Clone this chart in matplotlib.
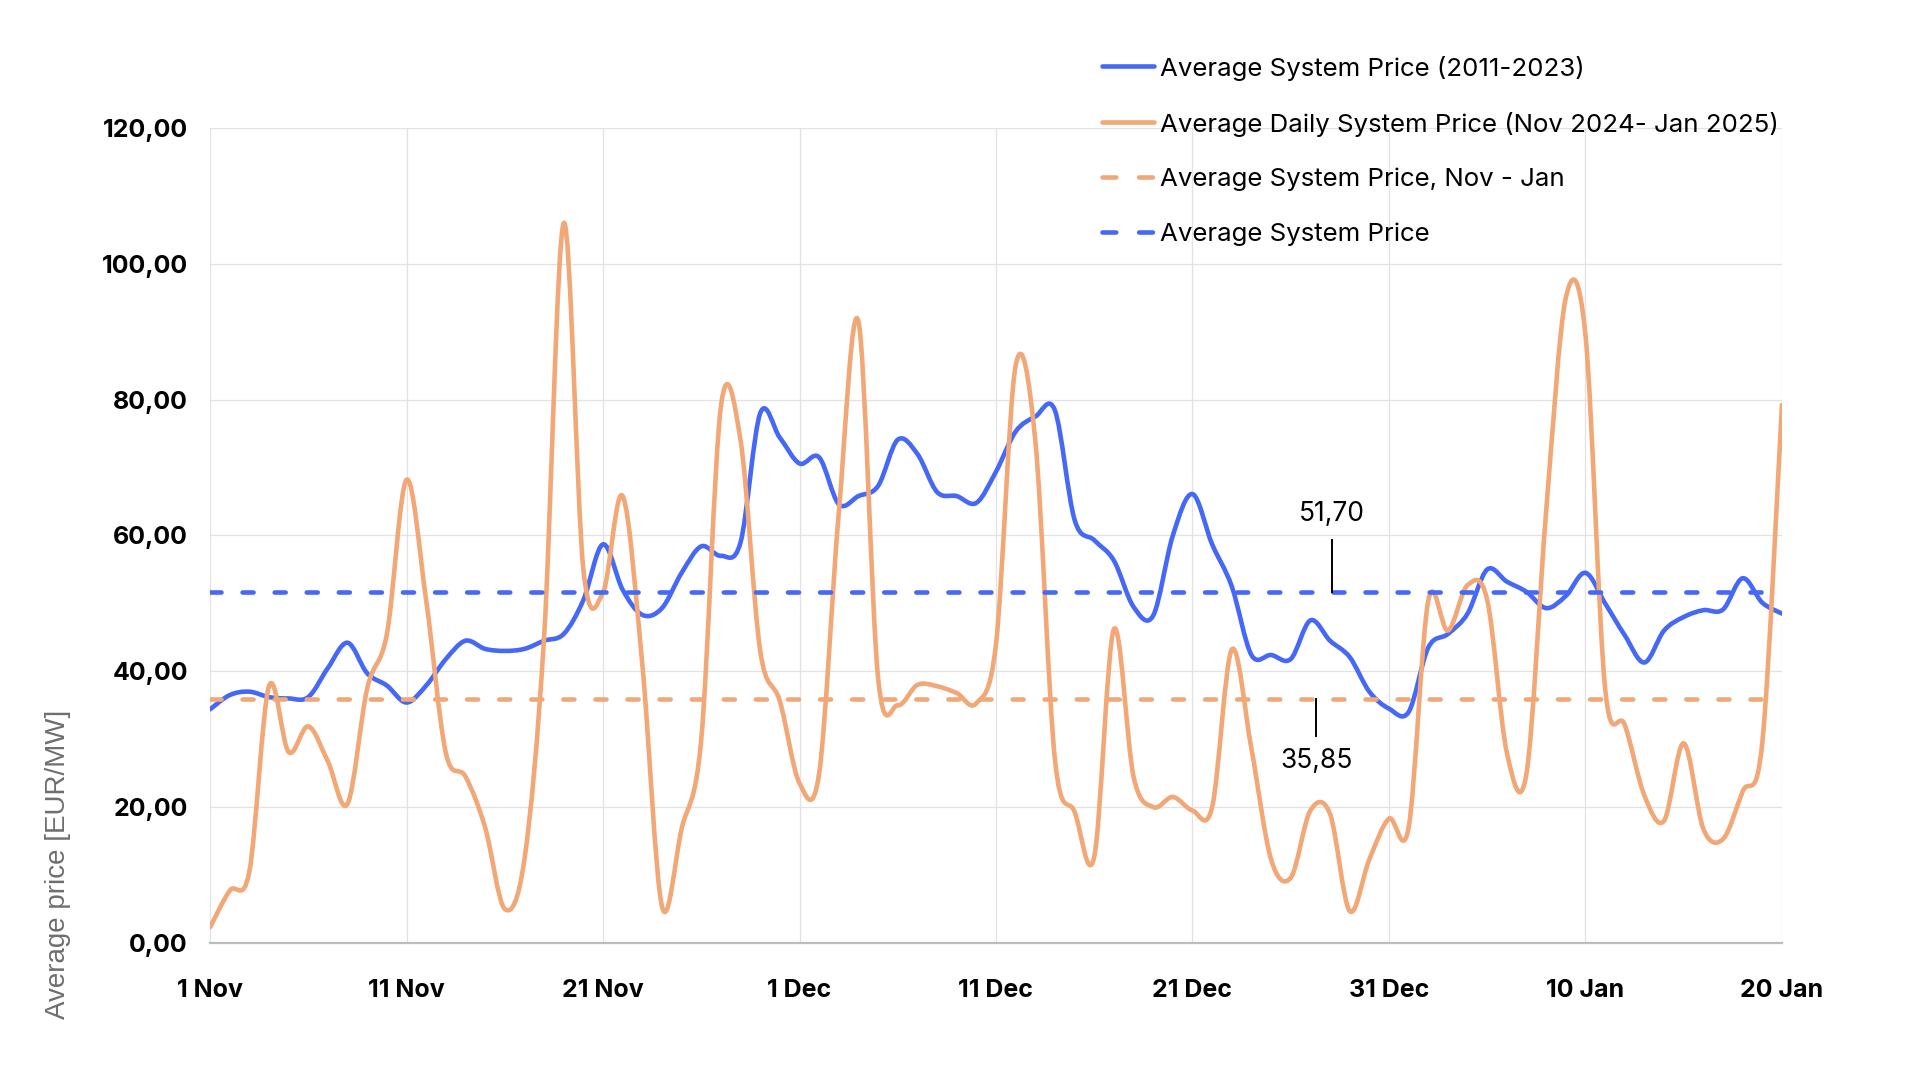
import matplotlib
matplotlib.use("Agg")
import matplotlib.pyplot as plt
from matplotlib.path import Path
from matplotlib.patches import PathPatch
from matplotlib.lines import Line2D
import numpy as np

# ---------------- data ----------------
days = list(range(81))  # 1 Nov 2024 .. 20 Jan 2025
avg_2011_2023 = [34.4, 36.5, 37.0, 36.2, 36.0, 36.2, 40.5, 44.2, 39.7, 37.9,
                 35.4, 37.9, 41.8, 44.5, 43.3, 43.0, 43.3, 44.5, 45.5, 50.5,
                 58.7, 52.0, 48.3, 49.3, 54.5, 58.4, 57.0, 59.0, 78.0, 74.4,
                 70.6, 71.5, 64.6, 65.8, 67.3, 74.1, 72.0, 66.4, 65.8, 64.8,
                 69.4, 75.3, 77.5, 78.4, 62.3, 59.3, 56.3, 49.5, 48.2, 60.0,
                 66.1, 58.7, 52.5, 42.4, 42.4, 41.8, 47.5, 44.5, 42.1, 37.0,
                 34.5, 34.0, 43.5, 45.5, 48.5, 55.0, 53.2, 51.7, 49.3, 51.1,
                 54.5, 50.0, 45.3, 41.3, 46.0, 48.0, 49.0, 49.1, 53.7, 50.1,
                 48.5]
daily_2024_25 = [2.3, 7.7, 10.5, 37.8, 28.1, 31.9, 26.7, 20.5, 37.5, 45.5,
                 68.2, 50.4, 28.0, 24.5, 17.0, 5.0, 12.3, 45.0, 106.0, 55.0,
                 51.6, 65.8, 41.0, 5.4, 16.8, 30.0, 79.0, 74.0, 43.0, 35.6,
                 23.5, 25.0, 63.4, 91.5, 39.0, 35.0, 38.0, 37.8, 36.8, 35.3,
                 44.0, 85.0, 74.0, 27.0, 19.3, 12.7, 46.2, 24.5, 20.0, 21.5,
                 19.5, 20.0, 43.2, 28.6, 12.3, 9.6, 19.5, 19.0, 4.7, 12.3,
                 18.3, 17.0, 50.4, 46.0, 52.7, 50.5, 28.0, 25.0, 63.6, 95.0,
                 89.5, 37.5, 32.1, 21.7, 18.0, 29.4, 16.8, 15.3, 22.3, 29.5,
                 79.2]
mean_nov_jan = 35.85
mean_system = 51.70

x_tick_pos = [0, 10, 20, 30, 40, 50, 60, 70, 80]
x_tick_labels = ['1 Nov', '11 Nov', '21 Nov', '1 Dec', '11 Dec', '21 Dec',
                 '31 Dec', '10 Jan', '20 Jan']
y_ticks = [0, 20, 40, 60, 80, 100, 120]
y_tick_labels = ['0,00', '20,00', '40,00', '60,00', '80,00', '100,00', '120,00']

legend_labels = ['Average System Price (2011-2023)',
                 'Average Daily System Price (Nov 2024- Jan 2025)',
                 'Average System Price, Nov - Jan',
                 'Average System Price']

BLUE = '#4568F6'
ORANGE = '#F2A777'

plt.rcParams['font.family'] = ['Inter', 'DejaVu Sans']

fig = plt.figure(figsize=(19.2, 10.8), dpi=100)
ax = fig.add_axes([0.1094, 0.1269, 0.9281 - 0.1094, 0.8815 - 0.1269])


def smooth_path(xs, ys):
    """Excel-like smoothed line: cubic Bezier segments through data points."""
    xs = np.asarray(xs, float)
    ys = np.asarray(ys, float)
    pts = np.column_stack([xs, ys])
    n = len(pts)
    verts = [pts[0]]
    codes = [Path.MOVETO]
    for i in range(n - 1):
        p0 = pts[i - 1] if i > 0 else pts[i]
        p1 = pts[i]
        p2 = pts[i + 1]
        p3 = pts[i + 2] if i + 2 < n else pts[i + 1]
        c1 = p1 + (p2 - p0) / 6.0
        c2 = p2 - (p3 - p1) / 6.0
        verts += [c1, c2, p2]
        codes += [Path.CURVE4] * 3
    return Path(verts, codes)


lw = 3.3
ax.add_patch(PathPatch(smooth_path(days, avg_2011_2023), fill=False,
                       edgecolor=BLUE, lw=lw, capstyle='round',
                       joinstyle='round', zorder=3))
ax.add_patch(PathPatch(smooth_path(days, daily_2024_25), fill=False,
                       edgecolor=ORANGE, lw=lw, capstyle='round',
                       joinstyle='round', zorder=4))
dash = (2.4, 4.6)
ax.plot([days[0], days[-1]], [mean_nov_jan, mean_nov_jan], color=ORANGE,
        lw=lw, dashes=dash, dash_capstyle='round', zorder=5)
ax.plot([days[0], days[-1]], [mean_system, mean_system], color=BLUE,
        lw=lw, dashes=dash, dash_capstyle='round', zorder=6)

# annotations
ax.plot([57.1, 57.1], [mean_system, 59.3], color='black', lw=1.4, zorder=7)
ax.text(57.1, 63.2, '51,70', ha='center', va='center', fontsize=19,
        color='black', zorder=7)
ax.plot([56.3, 56.3], [mean_nov_jan, 30.4], color='black', lw=1.4, zorder=7)
ax.text(56.3, 26.8, '35,85', ha='center', va='center', fontsize=19,
        color='black', zorder=7)

ax.set_xlim(0, 80)
ax.set_ylim(0, 120)
ax.set_xticks(x_tick_pos)
ax.set_xticklabels(x_tick_labels, fontsize=18, fontweight='bold')
ax.set_yticks(y_ticks)
ax.set_yticklabels(y_tick_labels, fontsize=18, fontweight='bold')
ax.tick_params(axis='both', length=0, colors='black')
ax.tick_params(axis='x', pad=26)
ax.tick_params(axis='y', pad=16)
ax.grid(True, color='#E2E2E2', lw=0.9, zorder=0)
ax.set_axisbelow(True)
for s in ['top', 'right', 'left']:
    ax.spines[s].set_visible(False)
ax.spines['bottom'].set_color('#BDBDBD')
ax.spines['bottom'].set_linewidth(1.6)
ax.spines['bottom'].set_zorder(8)

fig.text(0.030, 0.200, 'Average price [EUR/MW]', rotation=90, ha='center',
         va='center', fontsize=20, color='#6E6E6E',
         family=['Liberation Sans', 'DejaVu Sans'])

# legend (drawn manually, no frame)
leg_rows = [1 - 66 / 1080, 1 - 122 / 1080, 1 - 177 / 1080, 1 - 232 / 1080]
leg_colors = [BLUE, ORANGE, ORANGE, BLUE]
leg_dashed = [False, False, True, True]
hx0, hx1, tx = 1102 / 1920, 1154 / 1920, 1160 / 1920
for yy, c, d, lab in zip(leg_rows, leg_colors, leg_dashed, legend_labels):
    ln = Line2D([hx0, hx1], [yy, yy], transform=fig.transFigure, color=c,
                lw=lw, solid_capstyle='round', dash_capstyle='round')
    if d:
        ln.set_dashes((3.0, 5.0))
    fig.add_artist(ln)
    fig.text(tx, yy, lab, ha='left', va='center_baseline', fontsize=18.6,
             color='black')

fig.savefig('out.png', dpi=100)
